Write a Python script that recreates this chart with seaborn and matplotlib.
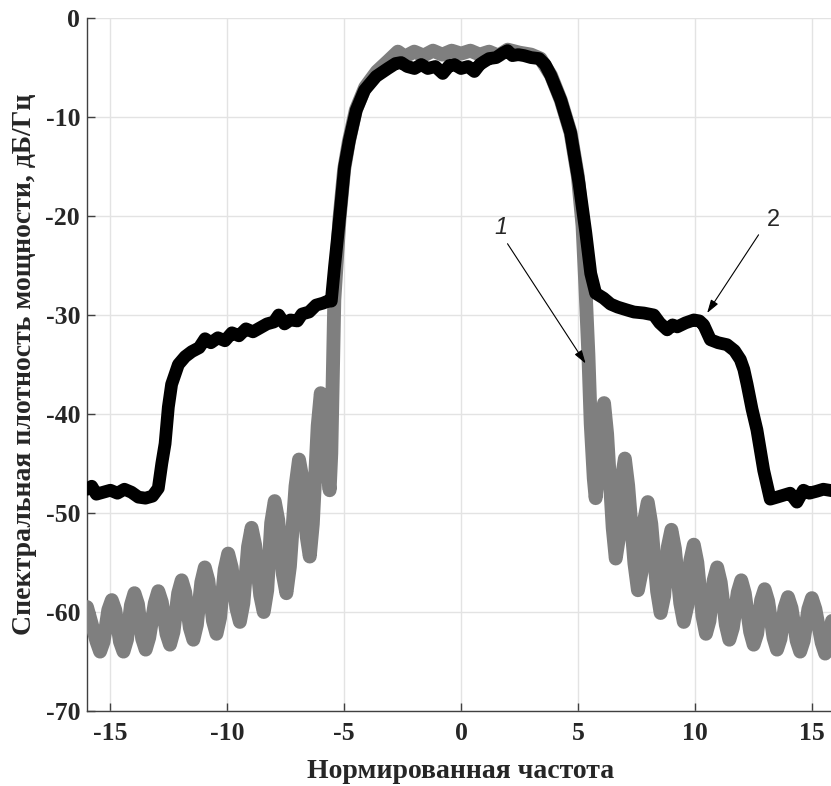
import matplotlib
matplotlib.use("Agg")
import matplotlib.pyplot as plt
import seaborn as sns
import pandas as pd

# Curve 1 (gray): left side lobes
x1_left = [-16.0,
           -15.59, -15.44, -15.29, -15.09, -14.94, -14.79,
           -14.59, -14.44, -14.29, -14.12, -13.97, -13.82,
           -13.64, -13.49, -13.34, -13.10, -12.95, -12.80,
           -12.60, -12.45, -12.30, -12.10, -11.95, -11.80,
           -11.60, -11.45, -11.30, -11.11, -10.96, -10.81,
           -10.61, -10.46, -10.31, -10.11, -9.96, -9.81,
           -9.61, -9.46, -9.31, -9.11, -8.96, -8.81,
           -8.59, -8.44, -8.29, -8.12, -7.97, -7.82,
           -7.62, -7.47, -7.32, -7.08, -6.93, -6.78,
           -6.60, -6.47, -6.34, -6.13, -6.0, -5.88,
           -5.70, -5.62, -5.55]
y1_left = [-59.5,
           -63.0, -64.0, -63.0, -59.8, -58.8, -59.8,
           -63.0, -64.0, -62.8, -59.3, -58.1, -59.2,
           -62.7, -63.8, -62.6, -59.1, -57.9, -59.0,
           -62.2, -63.3, -62.0, -58.1, -56.8, -58.0,
           -61.6, -62.8, -61.3, -57.0, -55.5, -56.8,
           -60.9, -62.2, -60.6, -55.7, -54.1, -55.5,
           -59.6, -61.0, -59.1, -53.4, -51.5, -53.2,
           -58.3, -60.0, -57.8, -51.0, -48.8, -50.7,
           -56.2, -58.1, -55.4, -47.3, -44.6, -46.6,
           -52.4, -54.4, -51.1, -41.2, -37.9, -39.9,
           -46.0, -47.7, -44.0]
# Curve 1 (gray): main lobe
x1_main = [-5.5, -5.42, -5.2, -5.0, -4.8, -4.5, -4.1, -3.6,
           -3.1, -2.7, -2.4, -2.0, -1.6, -1.2, -0.8, -0.4, 0.0, 0.4,
           0.8, 1.2, 1.6, 2.0, 2.5, 3.0, 3.4, 3.85, 4.27, 4.69,
           5.0, 5.2, 5.32, 5.45, 5.55]
y1_main = [-38.0, -28.5, -20.3, -15.3, -12.5, -9.3, -7.0, -5.4,
           -4.3, -3.4, -3.9, -3.4, -3.8, -3.3, -3.7, -3.3, -3.6, -3.3,
           -3.7, -3.4, -3.8, -3.2, -3.5, -3.7, -4.1, -5.8, -8.3, -11.6,
           -16.0, -21.0, -27.0, -34.0, -41.0]
# Curve 1 (gray): right side lobes
x1_right = [5.68, 5.76, 5.86, 5.99, 6.12, 6.25,
            6.49, 6.62, 6.75, 6.88, 7.01, 7.15,
            7.42, 7.57, 7.72, 7.84, 7.99, 8.14,
            8.39, 8.54, 8.69, 8.85, 9.0, 9.15,
            9.38, 9.53, 9.68, 9.81, 9.96, 10.11,
            10.33, 10.48, 10.63, 10.81, 10.96, 11.11,
            11.33, 11.48, 11.63, 11.84, 11.99, 12.14,
            12.37, 12.52, 12.67, 12.84, 12.99, 13.14,
            13.37, 13.52, 13.67, 13.84, 13.99, 14.14,
            14.36, 14.51, 14.66, 14.86, 15.01, 15.16,
            15.43, 15.58, 15.73, 16.0]
y1_right = [-46.5, -48.5, -46.0, -40.8, -38.9, -42.0,
            -51.5, -54.6, -52.6, -46.5, -44.5, -47.2,
            -55.1, -57.8, -56.0, -50.7, -48.9, -51.1,
            -57.9, -60.1, -58.4, -53.4, -51.7, -53.6,
            -59.1, -61.0, -59.4, -54.8, -53.2, -55.0,
            -60.4, -62.2, -60.9, -56.8, -55.5, -57.0,
            -61.3, -62.8, -61.6, -58.0, -56.8, -58.1,
            -62.0, -63.3, -62.2, -58.8, -57.7, -58.9,
            -62.6, -63.8, -62.7, -59.6, -58.5, -59.6,
            -62.9, -64.0, -62.9, -59.7, -58.6, -59.7,
            -63.1, -64.2, -63.0, -59.0]

# Curve 2 (black)
x2 = [-16.0, -15.8, -15.6, -15.3, -15.0, -14.7, -14.4, -14.1, -13.8, -13.5,
      -13.2, -12.95, -12.8, -12.66, -12.52, -12.38, -12.09, -11.8, -11.52, -11.2,
      -10.95, -10.7, -10.4, -10.1, -9.8, -9.5, -9.2, -8.9, -8.6, -8.3,
      -8.0, -7.8, -7.55, -7.3, -7.0, -6.8, -6.5, -6.2, -5.9, -5.7,
      -5.55, -5.41, -5.19, -4.98, -4.77, -4.48, -4.13, -3.63, -3.13, -2.8,
      -2.56, -2.3, -1.99, -1.7, -1.42, -1.1, -0.78, -0.5, -0.29, 0.0,
      0.3, 0.57, 0.8, 0.99, 1.2, 1.5, 1.75, 1.99, 2.2, 2.45,
      2.7, 3.0, 3.34, 3.6, 3.84, 4.27, 4.69, 5.05, 5.34, 5.55,
      5.76, 6.1, 6.4, 6.7, 7.11, 7.4, 7.82, 8.25, 8.5, 8.82,
      9.05, 9.25, 9.6, 9.96, 10.2, 10.38, 10.67, 11.0, 11.38, 11.7,
      11.95, 12.1, 12.24, 12.45, 12.66, 12.95, 13.23, 13.52, 13.8, 14.08,
      14.37, 14.65, 14.9, 15.22, 15.5, 16.0]
y2 = [-47.6, -47.3, -48.1, -47.9, -47.7, -48.0, -47.6, -47.9, -48.4, -48.5,
      -48.3, -47.5, -45.0, -43.0, -39.3, -37.0, -35.0, -34.2, -33.7, -33.3,
      -32.4, -32.8, -32.3, -32.6, -31.8, -32.1, -31.4, -31.7, -31.3, -30.9,
      -30.7, -30.0, -30.9, -30.5, -30.6, -29.9, -29.7, -29.0, -28.8, -28.6,
      -28.6, -25.1, -20.1, -15.0, -12.3, -9.3, -7.3, -5.9, -5.1, -4.6,
      -4.5, -4.9, -5.1, -4.7, -5.1, -4.9, -5.6, -4.8, -4.7, -5.1,
      -4.9, -5.4, -4.7, -4.4, -4.1, -4.0, -3.6, -3.3, -3.8, -3.7,
      -3.8, -4.0, -4.1, -4.7, -5.8, -8.3, -11.6, -16.7, -21.7, -25.8,
      -27.8, -28.3, -28.9, -29.2, -29.5, -29.7, -29.8, -30.0, -30.8, -31.5,
      -31.0, -31.2, -30.8, -30.5, -30.6, -31.0, -32.5, -32.8, -33.0, -33.6,
      -34.5, -35.5, -37.0, -39.5, -41.6, -45.7, -48.6, -48.4, -48.2, -48.0,
      -48.9, -47.7, -48.0, -47.8, -47.6, -47.8]

x_ticks = [-15, -10, -5, 0, 5, 10, 15]
y_ticks = [-70, -60, -50, -40, -30, -20, -10, 0]
x_label = "Нормированная частота"
y_label = "Спектральная плотность мощности, дБ/Гц"
ann_labels = ["1", "2"]

sns.set_style("white")
plt.rcParams['font.family'] = ['Liberation Serif', 'DejaVu Serif']

fig = plt.figure(figsize=(8.31, 7.86), dpi=100)
ax = fig.add_axes([87/831, 75/786, (835-87)/831, 693/786])

df1 = pd.DataFrame({"x": x1_left + x1_main + x1_right,
                    "y": y1_left + y1_main + y1_right})
df2 = pd.DataFrame({"x": x2, "y": y2})
sns.lineplot(data=df1, x="x", y="y", sort=False, estimator=None, color="#7f7f7f",
             linewidth=10.0, ax=ax, solid_joinstyle="round", solid_capstyle="round", zorder=3)
sns.lineplot(data=df2, x="x", y="y", sort=False, estimator=None, color="black",
             linewidth=9.2, ax=ax, solid_joinstyle="round", solid_capstyle="round", zorder=4)

ax.set_xlim(-16, 16)
ax.set_ylim(-70, 0)
ax.set_xticks(x_ticks)
ax.set_yticks(y_ticks)
ax.set_xticklabels([str(v) for v in x_ticks], fontsize=18.5, fontweight="bold")
ax.set_yticklabels([str(v) for v in y_ticks], fontsize=18.5, fontweight="bold")
ax.grid(True, color="#e3e3e3", linewidth=1.0)
ax.set_axisbelow(True)
for s in ["top", "right"]:
    ax.spines[s].set_visible(False)
for s in ["left", "bottom"]:
    ax.spines[s].set_color("#404040")
    ax.spines[s].set_linewidth(1.0)
ax.tick_params(axis="both", direction="in", length=6, width=1, color="#404040",
               bottom=True, left=True)
ax.tick_params(axis="x", pad=8)
ax.tick_params(axis="y", pad=5)
ax.set_xlabel(x_label, fontsize=20, fontweight="bold", labelpad=10)
ax.set_ylabel(y_label, fontsize=20, fontweight="bold", labelpad=6)

arrow = dict(arrowstyle="-|>,head_length=0.8,head_width=0.25", color="black",
             lw=0.8, shrinkA=0, shrinkB=0)
ax.annotate("", xy=(5.33, -34.9), xytext=(1.99, -22.8), arrowprops=arrow, zorder=6)
ax.text(1.71, -21.2, ann_labels[0], fontsize=17, fontstyle="italic",
        family="Liberation Sans", ha="center", va="center", zorder=6)
ax.annotate("", xy=(10.53, -29.8), xytext=(12.73, -21.9), arrowprops=arrow, zorder=6)
ax.text(13.37, -20.4, ann_labels[1], fontsize=17,
        family="Liberation Sans", ha="center", va="center", zorder=6)

fig.savefig("out.png", dpi=100)
